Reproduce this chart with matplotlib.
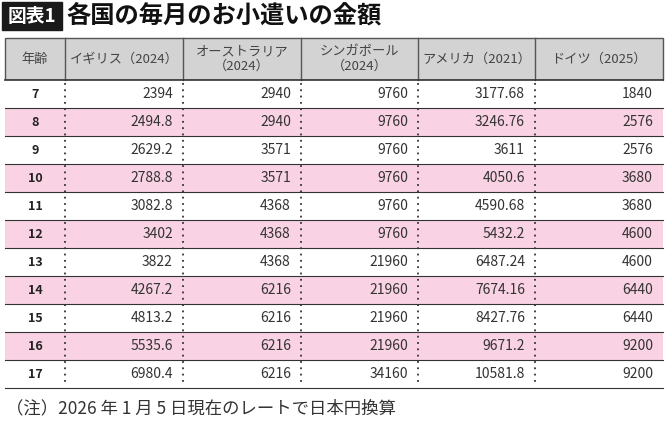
import matplotlib
matplotlib.use("Agg")
import matplotlib.pyplot as plt
from matplotlib.patches import Rectangle

plt.rcParams['font.family'] = ['Noto Sans CJK JP', 'DejaVu Sans']

title = "各国の毎月のお小遣いの金額"
tag = "図表1"
headers = ["年齢", "イギリス（2024）", "オーストラリア\n（2024）", "シンガポール\n（2024）", "アメリカ（2021）", "ドイツ（2025）"]
ages = ["7", "8", "9", "10", "11", "12", "13", "14", "15", "16", "17"]
uk = ["2394", "2494.8", "2629.2", "2788.8", "3082.8", "3402", "3822", "4267.2", "4813.2", "5535.6", "6980.4"]
au = ["2940", "2940", "3571", "3571", "4368", "4368", "4368", "6216", "6216", "6216", "6216"]
sg = ["9760", "9760", "9760", "9760", "9760", "9760", "21960", "21960", "21960", "21960", "34160"]
us = ["3177.68", "3246.76", "3611", "4050.6", "4590.68", "5432.2", "6487.24", "7674.16", "8427.76", "9671.2", "10581.8"]
de = ["1840", "2576", "2576", "3680", "3680", "4600", "4600", "6440", "6440", "9200", "9200"]
note = "（注）2026 年 1 月 5 日現在のレートで日本円換算"

W, H = 670, 422
fig = plt.figure(figsize=(W/100, H/100), dpi=100)
ax = fig.add_axes([0, 0, 1, 1])
ax.set_xlim(0, W); ax.set_ylim(H, 0); ax.axis('off')

ax.add_patch(Rectangle((2, 2), 60, 28, color='#1a1a1a'))
ax.text(32, 16, tag, color='white', fontsize=13.5, fontweight='bold', ha='center', va='center')
ax.text(66, 16, title, color='#111111', fontsize=17.5, fontweight='bold', ha='left', va='center')

cols = [5, 65, 183, 301, 418, 535, 663]
top, hb, rh = 38, 80, 28
ax.add_patch(Rectangle((cols[0], top), cols[-1]-cols[0], hb-top, facecolor='#d3d3d3', edgecolor='#555555', lw=1))
for i, h in enumerate(headers):
    ax.text((cols[i]+cols[i+1])/2, (top+hb)/2, h, ha='center', va='center', fontsize=9.5, color='#444444', linespacing=1.1)
for c in cols[1:-1]:
    ax.plot([c, c], [top, hb], color='#555555', lw=1)

data = [uk, au, sg, us, de]
for r, age in enumerate(ages):
    y0 = hb + r*rh
    fc = '#f9d3e3' if r % 2 == 1 else 'white'
    ax.add_patch(Rectangle((cols[0], y0), cols[-1]-cols[0], rh, facecolor=fc, edgecolor='none'))
    ax.plot([cols[0], cols[-1]], [y0+rh, y0+rh], color='#333333', lw=0.8)
    yc = y0 + rh/2
    ax.text((cols[0]+cols[1])/2, yc, age, ha='center', va='center', fontsize=9, fontweight='bold', color='#222222')
    for j, d in enumerate(data):
        ax.text(cols[j+2]-10, yc, d[r], ha='right', va='center', fontsize=10, color='#333333')
bottom = hb + len(ages)*rh
ax.plot([cols[0], cols[-1]], [hb, hb], color='#333333', lw=1.2)
for c in cols[1:-1]:
    ax.plot([c, c], [hb+3, bottom-3], color='#333333', lw=1.3, linestyle=(0, (1, 2.5)))

ax.text(6, 408, note, ha='left', va='center', fontsize=12.5, color='#333333')
fig.savefig("out.png", dpi=100)
